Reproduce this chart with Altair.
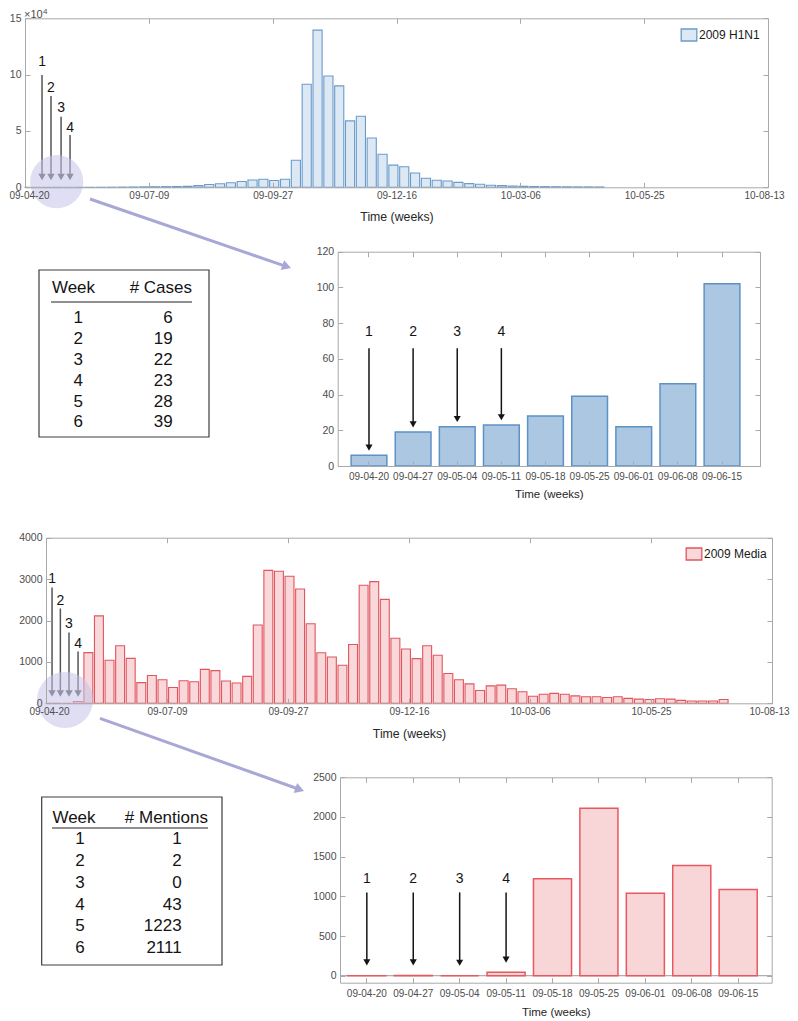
import altair as alt
import pandas as pd

# ---------------- data ----------------
overview_tick_labels = ["09-04-20", "09-07-09", "09-09-27", "09-12-16", "10-03-06", "10-05-25", "10-08-13"]
overview_tick_days = [0, 80, 160, 240, 320, 400, 480]
zoom_week_labels = ["09-04-20", "09-04-27", "09-05-04", "09-05-11", "09-05-18",
                    "09-05-25", "09-06-01", "09-06-08", "09-06-15"]

h1n1_weekly_cases = [6, 19, 22, 23, 28, 39, 22, 46, 102, 200,
                     300, 400, 500, 600, 700, 900, 1500, 2500, 3100, 4000,
                     5200, 6500, 7200, 6100, 7200, 24000, 91500, 139500, 98800, 90000,
                     59000, 63000, 43800, 29300, 19700, 18200, 12700, 8000, 6200, 5600,
                     4400, 3300, 2700, 1800, 1500, 1200, 900, 700, 600, 500,
                     450, 400, 350, 300]
media_weekly_mentions = [1, 2, 0, 43, 1223, 2111, 1040, 1390, 1085, 500,
                         670, 570, 380, 545, 520, 820, 790, 540, 490, 650,
                         1890, 3210, 3190, 3070, 2760, 1920, 1220, 1120, 920, 1420,
                         2850, 2940, 2510, 1570, 1310, 1080, 1390, 1160, 720, 570,
                         470, 310, 420, 440, 350, 280, 170, 220, 240, 220,
                         180, 160, 160, 140, 160, 120, 100, 90, 110, 100,
                         70, 55, 55, 55, 90]
h1n1_first_weeks = [6, 19, 22, 23, 28, 39, 22, 46, 102]
media_first_weeks = [1, 2, 0, 43, 1223, 2111, 1040, 1390, 1085]

table_weeks = [1, 2, 3, 4, 5, 6]
table_cases = [6, 19, 22, 23, 28, 39]
table_mentions = [1, 2, 0, 43, 1223, 2111]

arrow_numbers = ["1", "2", "3", "4"]

# annotation placement (in each panel's data units)
h1n1_arrow_days = [11, 16.8, 23.3, 29.1]
h1n1_arrow_label_at = [111000, 87800, 70000, 52300]
h1n1_arrow_top_at = [99600, 81000, 62600, 46400]
media_arrow_days = [4, 9.5, 15.2, 21.2]
media_arrow_label_at = [3000, 2480, 1910, 1430]
media_arrow_top_at = [2800, 2290, 1710, 1250]
media_zoom_arrow_tip = [130, 130, 126, 165]

# ---------------- styling / layout ----------------
FONT = "Liberation Sans"
W, H = 782, 1013
AXC = "#a9a9a9"
LBLC = "#4d4d4d"
TITLEC = "#262626"
INK = "#141414"
ARROW_GRAY = "#555555"
LAV = "#a9a7d6"

OV1 = dict(x0=17, x1=760, yt=10.3, yb=179.3)
Z1 = dict(x0=329.7, x1=752, yt=243.7, yb=458)
OV2 = dict(x0=38, x1=764, yt=529.7, yb=695.3)
Z2 = dict(x0=332, x1=763.7, yt=769.3, yb=974.7)

label_expr = "[" + ",".join("'%s'" % t for t in overview_tick_labels) + "][round(datum.value / 80)]"


def xaxis_main(box, title_y, title_size, label_pad, **kw):
    return alt.Axis(orient="bottom", offset=box["yb"] - H, grid=False, ticks=False,
                    domain=True, domainColor=AXC, labelFont=FONT, labelFontSize=10,
                    labelColor=LBLC, labelPadding=label_pad, labelAngle=0,
                    labelOverlap=False, titleFont=FONT,
                    titleFontSize=title_size, titleFontWeight="normal", titleColor=TITLEC,
                    titleY=title_y, titleBaseline="middle", zindex=1, **kw)


def yaxis_main(box, values, **kw):
    return alt.Axis(orient="left", offset=-box["x0"], grid=False, ticks=False,
                    domain=True, domainColor=AXC, labelFont=FONT, labelFontSize=10.5,
                    labelColor=LBLC, labelPadding=4, labelFlush=False, labelOverlap=False,
                    values=values, zindex=1, **kw)


def tick_axis(orient, offset, domain, values):
    return alt.Axis(orient=orient, offset=offset, grid=False, labels=False, ticks=True,
                    tickSize=5, tickColor=AXC, domain=domain, domainColor=AXC,
                    values=values, zindex=1)


def frame_layers(chart, xf, yf, xs, ys, box, xvals, yvals):
    top_right = chart.mark_point(opacity=0).encode(
        x=alt.X(xf, scale=xs, title=None, axis=tick_axis("bottom", box["yt"] - H, True, xvals)),
        y=alt.Y(yf, scale=ys, title=None, axis=tick_axis("left", -box["x1"], True, yvals)),
    )
    bottom_left = chart.mark_point(opacity=0).encode(
        x=alt.X(xf, scale=xs, title=None, axis=tick_axis("top", -box["yb"], False, xvals)),
        y=alt.Y(yf, scale=ys, title=None, axis=tick_axis("right", box["x0"] - W, False, yvals)),
    )
    return [top_right, bottom_left]


def legend_at(x, y, stroke):
    return alt.Legend(orient="none", legendX=x, legendY=y, title=None,
                      symbolType="M-1.3,-1L1.3,-1L1.3,1L-1.3,1Z", symbolSize=144,
                      symbolStrokeColor=stroke, symbolStrokeWidth=1.3, symbolOpacity=1,
                      labelFont=FONT, labelFontSize=12, labelColor="#1a1a1a",
                      labelOffset=3, padding=0)


one = pd.DataFrame({"k": [0]})


def deco_text(txt, x, y, size, align="center", color=INK):
    return alt.Chart(one).mark_text(text=txt, font=FONT, fontSize=size, align=align,
                                    baseline="middle", color=color).encode(
        x=alt.value(x), y=alt.value(y))


def deco_rule(x1, y1, x2, y2, color, width):
    return alt.Chart(one).mark_rule(color=color, strokeWidth=width).encode(
        x=alt.value(x1), y=alt.value(y1), x2=alt.value(x2), y2=alt.value(y2))


layers = []

# ============ Panel 1: H1N1 overview ============
ov1_xs = alt.Scale(domain=[0, 480], range=[OV1["x0"], OV1["x1"]], nice=False, zero=False, clamp=True)
ov1_ys = alt.Scale(domain=[0, 150000], range=[OV1["yb"], OV1["yt"]], nice=False)
ov1_df = pd.DataFrame({"week": list(range(1, len(h1n1_weekly_cases) + 1)),
                       "count": h1n1_weekly_cases, "series": "2009 H1N1"})
ov1_base = alt.Chart(ov1_df).transform_calculate(
    day="(datum.week - 1) * 7", d0="(datum.week - 1) * 7 - 2.95", d1="(datum.week - 1) * 7 + 2.95")
layers += frame_layers(ov1_base, "day:Q", "count:Q", ov1_xs, ov1_ys, OV1,
                       overview_tick_days, [0, 50000, 100000, 150000])
layers.append(ov1_base.mark_bar(stroke="#6b9bcb", strokeWidth=1.1).encode(
    x=alt.X("d0:Q", scale=ov1_xs, title="Time (weeks)",
            axis=xaxis_main(OV1, 29, 12.3, 3, values=overview_tick_days, labelExpr=label_expr,
                            labelFlush=True, labelFlushOffset=16)),
    x2="d1:Q",
    y=alt.Y("count:Q", scale=ov1_ys, title=None,
            axis=yaxis_main(OV1, [0, 50000, 100000, 150000], labelExpr="datum.value / 10000")),
    y2=alt.datum(0),
    fill=alt.Fill("series:N", scale=alt.Scale(domain=["2009 H1N1"], range=["#dce8f3"]),
                  legend=legend_at(674, 20, "#6b9bcb")),
))
ov1_arrow_df = pd.DataFrame({"num": arrow_numbers, "day": h1n1_arrow_days,
                             "label_at": h1n1_arrow_label_at, "top_at": h1n1_arrow_top_at})
ov1_arr = alt.Chart(ov1_arrow_df).transform_calculate(head="9200")
layers.append(ov1_arr.mark_rule(color=ARROW_GRAY, strokeWidth=1.5).encode(
    x=alt.X("day:Q", scale=ov1_xs, axis=None),
    y=alt.Y("top_at:Q", scale=ov1_ys, axis=None), y2="head:Q"))
layers.append(ov1_arr.mark_point(shape="triangle-down", filled=True, size=55, color=ARROW_GRAY, opacity=1).encode(
    x=alt.X("day:Q", scale=ov1_xs, axis=None),
    y=alt.Y("head:Q", scale=ov1_ys, axis=None)))
layers.append(ov1_arr.mark_text(font=FONT, fontSize=14, color=INK, baseline="middle").encode(
    x=alt.X("day:Q", scale=ov1_xs, axis=None),
    y=alt.Y("label_at:Q", scale=ov1_ys, axis=None), text="num:N"))
layers.append(deco_text("\u00d710", 16, 7, 11, align="left", color=LBLC))
layers.append(deco_text("4", 35, 3.5, 8, align="left", color=LBLC))

# ============ Panel 2: H1N1 first weeks ============
z1_xs = alt.Scale(type="band", domain=zoom_week_labels, range=[Z1["x0"], Z1["x1"]],
                  paddingInner=0.19, paddingOuter=0.38, align=0.4)
z1_ys = alt.Scale(domain=[0, 120], range=[Z1["yb"], Z1["yt"]], nice=False)
z1_df = pd.DataFrame({"date": zoom_week_labels, "count": h1n1_first_weeks})
z1_base = alt.Chart(z1_df)
layers += frame_layers(z1_base, "date:O", "count:Q", z1_xs, z1_ys, Z1,
                       zoom_week_labels, [0, 20, 40, 60, 80, 100, 120])
layers.append(z1_base.mark_bar(fill="#abc7e1", stroke="#5e92c5", strokeWidth=1.5).encode(
    x=alt.X("date:O", scale=z1_xs, title="Time (weeks)",
            axis=xaxis_main(Z1, 28.3, 11.5, 5, labelFlush=False)),
    y=alt.Y("count:Q", scale=z1_ys, title=None, axis=yaxis_main(Z1, [0, 20, 40, 60, 80, 100, 120])),
))
z1_arrow_df = pd.DataFrame({"num": arrow_numbers, "date": zoom_week_labels[:4],
                            "bar": h1n1_first_weeks[:4]})
z1_arr = alt.Chart(z1_arrow_df).transform_calculate(head="datum.bar + 4.3", top_at="66", label_at="75")
layers.append(z1_arr.mark_rule(color=INK, strokeWidth=1.5).encode(
    x=alt.X("date:O", scale=z1_xs, axis=None),
    y=alt.Y("top_at:Q", scale=z1_ys, axis=None), y2="head:Q"))
layers.append(z1_arr.mark_point(shape="triangle-down", filled=True, size=50, color=INK, opacity=1).encode(
    x=alt.X("date:O", scale=z1_xs, axis=None),
    y=alt.Y("head:Q", scale=z1_ys, axis=None)))
layers.append(z1_arr.mark_text(font=FONT, fontSize=14, color=INK, baseline="middle").encode(
    x=alt.X("date:O", scale=z1_xs, axis=None),
    y=alt.Y("label_at:Q", scale=z1_ys, axis=None), text="num:N"))

# ============ Panel 3: media overview ============
ov2_xs = alt.Scale(domain=[0, 480], range=[OV2["x0"], OV2["x1"]], nice=False, zero=False, clamp=True)
ov2_ys = alt.Scale(domain=[0, 4000], range=[OV2["yb"], OV2["yt"]], nice=False)
ov2_df = pd.DataFrame({"week": list(range(1, len(media_weekly_mentions) + 1)),
                       "count": media_weekly_mentions, "series": "2009 Media"})
ov2_base = alt.Chart(ov2_df).transform_calculate(
    day="(datum.week - 1) * 7", d0="(datum.week - 1) * 7 - 2.95", d1="(datum.week - 1) * 7 + 2.95")
layers += frame_layers(ov2_base, "day:Q", "count:Q", ov2_xs, ov2_ys, OV2,
                       overview_tick_days, [0, 1000, 2000, 3000, 4000])
layers.append(ov2_base.mark_bar(stroke="#e2555c", strokeWidth=1.1).encode(
    x=alt.X("d0:Q", scale=ov2_xs, title="Time (weeks)",
            axis=xaxis_main(OV2, 29.7, 12.3, 3, values=overview_tick_days, labelExpr=label_expr,
                            labelFlush=True, labelFlushOffset=17)),
    x2="d1:Q",
    y=alt.Y("count:Q", scale=ov2_ys, title=None,
            axis=yaxis_main(OV2, [0, 1000, 2000, 3000, 4000], format="d")),
    y2=alt.datum(0),
    fill=alt.Fill("series:N", scale=alt.Scale(domain=["2009 Media"], range=["#f8d8da"]),
                  legend=legend_at(679, 539, "#e2555c")),
))
ov2_arrow_df = pd.DataFrame({"num": arrow_numbers, "day": media_arrow_days,
                             "label_at": media_arrow_label_at, "top_at": media_arrow_top_at})
ov2_arr = alt.Chart(ov2_arrow_df).transform_calculate(head="235")
layers.append(ov2_arr.mark_rule(color=ARROW_GRAY, strokeWidth=1.5).encode(
    x=alt.X("day:Q", scale=ov2_xs, axis=None),
    y=alt.Y("top_at:Q", scale=ov2_ys, axis=None), y2="head:Q"))
layers.append(ov2_arr.mark_point(shape="triangle-down", filled=True, size=55, color=ARROW_GRAY, opacity=1).encode(
    x=alt.X("day:Q", scale=ov2_xs, axis=None),
    y=alt.Y("head:Q", scale=ov2_ys, axis=None)))
layers.append(ov2_arr.mark_text(font=FONT, fontSize=14, color=INK, baseline="middle").encode(
    x=alt.X("day:Q", scale=ov2_xs, axis=None),
    y=alt.Y("label_at:Q", scale=ov2_ys, axis=None), text="num:N"))

# ============ Panel 4: media first weeks ============
z2_xs = alt.Scale(type="band", domain=zoom_week_labels, range=[Z2["x0"], Z2["x1"]],
                  paddingInner=0.18, paddingOuter=0.24, align=0.35)
z2_ys = alt.Scale(domain=[-88, 2500], range=[Z2["yb"], Z2["yt"]], nice=False, zero=False)
z2_df = pd.DataFrame({"date": zoom_week_labels, "count": media_first_weeks})
z2_base = alt.Chart(z2_df)
layers += frame_layers(z2_base, "date:O", "count:Q", z2_xs, z2_ys, Z2,
                       zoom_week_labels, [0, 500, 1000, 1500, 2000, 2500])
layers.append(alt.Chart(pd.DataFrame({"zero": [0]})).mark_rule(color="#9a9a9a", strokeWidth=1).encode(
    y=alt.Y("zero:Q", scale=z2_ys, axis=None), x=alt.value(Z2["x0"]), x2=alt.value(Z2["x1"])))
layers.append(z2_base.mark_bar(fill="#f8d6d8", stroke="#e9585f", strokeWidth=1.5).encode(
    x=alt.X("date:O", scale=z2_xs, title="Time (weeks)",
            axis=xaxis_main(Z2, 29.6, 11.5, 5.5, labelFlush=False)),
    y=alt.Y("count:Q", scale=z2_ys, title=None,
            axis=yaxis_main(Z2, [0, 500, 1000, 1500, 2000, 2500], format="d")),
    y2=alt.datum(0),
))
z2_arrow_df = pd.DataFrame({"num": arrow_numbers, "date": zoom_week_labels[:4],
                            "tip": media_zoom_arrow_tip})
z2_arr = alt.Chart(z2_arrow_df).transform_calculate(head="datum.tip + 38", top_at="1050", label_at="1214")
layers.append(z2_arr.mark_rule(color=INK, strokeWidth=1.5).encode(
    x=alt.X("date:O", scale=z2_xs, axis=None),
    y=alt.Y("top_at:Q", scale=z2_ys, axis=None), y2="head:Q"))
layers.append(z2_arr.mark_point(shape="triangle-down", filled=True, size=50, color=INK, opacity=1).encode(
    x=alt.X("date:O", scale=z2_xs, axis=None),
    y=alt.Y("head:Q", scale=z2_ys, axis=None)))
layers.append(z2_arr.mark_text(font=FONT, fontSize=14, color=INK, baseline="middle").encode(
    x=alt.X("date:O", scale=z2_xs, axis=None),
    y=alt.Y("label_at:Q", scale=z2_ys, axis=None), text="num:N"))

# ============ Tables ============
def table_layers(box, header_y, underline, head_week_x, head_val_x, head_val_text,
                 week_x, val_x, row_range, values):
    out = []
    out.append(alt.Chart(one).mark_rect(fill="white", stroke="#3c3c3c", strokeWidth=1.2).encode(
        x=alt.value(box[0]), x2=alt.value(box[1]), y=alt.value(box[2]), y2=alt.value(box[3])))
    out.append(deco_text("Week", head_week_x, header_y, 17))
    out.append(deco_text(head_val_text, head_val_x, header_y, 17, align="right"))
    out.append(deco_rule(underline[0], underline[2], underline[1], underline[2], "#222222", 1.2))
    tdf = pd.DataFrame({"week": table_weeks, "value": values})
    ys = alt.Scale(domain=[1, 6], range=row_range, nice=False, zero=False)
    out.append(alt.Chart(tdf).mark_text(font=FONT, fontSize=17, color=INK, align="center",
                                        baseline="middle").encode(
        x=alt.value(week_x), y=alt.Y("week:Q", scale=ys, axis=None), text="week:N"))
    out.append(alt.Chart(tdf).mark_text(font=FONT, fontSize=17, color=INK, align="right",
                                        baseline="middle").encode(
        x=alt.value(val_x), y=alt.Y("week:Q", scale=ys, axis=None), text="value:N"))
    return out


layers += table_layers((31, 201, 262, 429), 280, (43, 184, 294), 65.5, 184, "# Cases",
                       70.3, 164.7, [310.3, 414.3], table_cases)
layers += table_layers((33.7, 214, 789, 957), 810, (44, 200, 820), 66, 200, "# Mentions",
                       72, 173.7, [831, 940.3], table_mentions)

# ============ zoom callouts (circles + connector arrows) ============
def callout(cx, cy, size, x1, y1, hx, hy, angle):
    return [
        alt.Chart(one).mark_circle(size=size, color="#c4c2e8", opacity=0.55).encode(
            x=alt.value(cx), y=alt.value(cy)),
        deco_rule(x1, y1, hx, hy, LAV, 3),
        alt.Chart(one).mark_point(shape="triangle-right", filled=True, size=110, color=LAV,
                                  opacity=1, angle=angle).encode(x=alt.value(hx), y=alt.value(hy)),
    ]


layers += callout(48.7, 173.7, 2830, 82, 191, 278.7, 258.6, 19)
layers += callout(57, 692, 3150, 92, 710.3, 291.7, 781.5, 19.6)

chart = alt.layer(*layers).properties(
    width=W, height=H, padding=0, autosize=alt.AutoSizeParams(type="none")
).resolve_scale(
    x="independent", y="independent", fill="independent"
).resolve_axis(
    x="independent", y="independent"
).resolve_legend(
    fill="independent"
).configure_view(strokeWidth=0)

chart.save("out.html", embed_options={"renderer": "svg", "actions": False})
